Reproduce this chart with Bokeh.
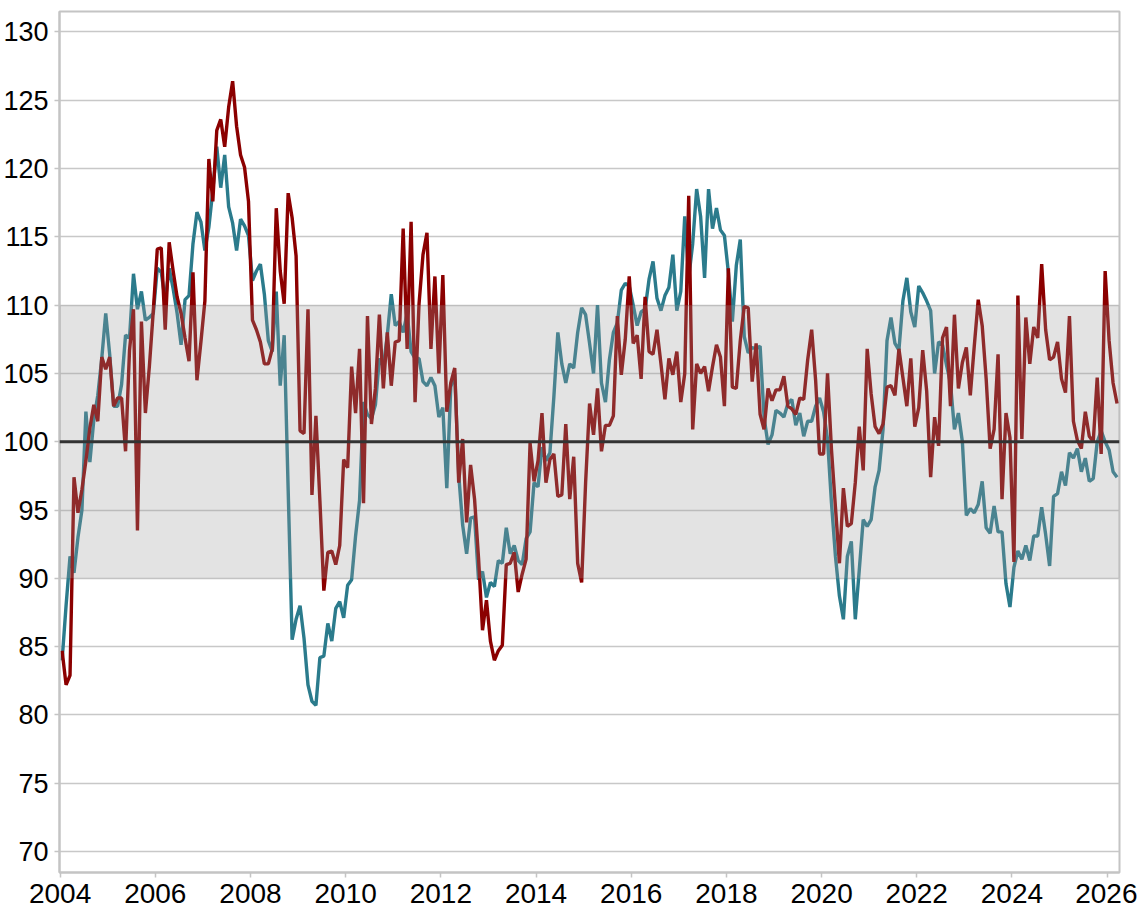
import pandas as pd
from bokeh.plotting import figure
from bokeh.models import Range1d, FixedTicker, BoxAnnotation, Span, ColumnDataSource
from bokeh.embed import file_html
from bokeh.resources import INLINE

# ---------------- data (monthly, Jan 2004 onwards) ----------------
start_month = "2004-01"

red = [
    84.7, 82.2, 82.9, 97.4, 94.8, 96.5, 98.6, 101.0, 102.7, 101.5, 106.2, 105.3,    # 2004
    106.2, 102.6, 103.2, 103.2, 99.3, 106.7, 109.7, 93.5, 108.8, 102.1, 105.5, 109.6,  # 2005
    114.1, 114.2, 108.2, 114.6, 112.5, 110.6, 109.4, 107.6, 105.9, 112.4, 104.5, 107.3,  # 2006
    110.3, 120.7, 117.6, 122.8, 123.6, 121.6, 124.5, 126.4, 123.1, 121.0, 120.1, 117.6,  # 2007
    108.9, 108.2, 107.3, 105.7, 105.7, 106.8, 117.1, 112.5, 110.1, 118.2, 116.4, 113.6,  # 2008
    100.8, 100.6, 109.7, 96.1, 101.9, 95.7, 89.1, 91.9, 92.0, 91.0, 92.4, 98.7,          # 2009
    98.1, 105.5, 102.1, 106.8, 95.5, 109.2, 101.3, 103.9, 109.3, 103.9, 108.0, 104.1,    # 2010
    107.3, 107.4, 115.6, 106.8, 116.1, 102.9, 110.1, 113.7, 115.3, 106.8, 112.1, 105.0,  # 2011
    112.2, 102.2, 104.3, 105.4, 97.0, 100.2, 94.1, 98.3, 95.8, 91.5, 86.2, 88.4,         # 2012
    85.4, 84.0, 84.7, 85.1, 91.0, 91.1, 91.9, 89.0, 90.3, 91.4, 99.9, 97.1,              # 2013
    98.6, 102.1, 97.0, 98.7, 99.1, 96.0, 96.1, 101.3, 95.8, 98.9, 91.1, 89.7,            # 2014
    97.0, 102.8, 100.5, 103.9, 99.3, 101.2, 101.2, 101.9, 109.2, 104.9, 107.5, 112.1,    # 2015
    107.2, 107.8, 104.6, 110.6, 106.6, 106.4, 108.2, 105.7, 103.1, 106.1, 104.9, 106.6,  # 2016
    102.9, 105.0, 118.0, 100.9, 105.7, 105.0, 105.5, 103.7, 105.5, 107.1, 106.2, 102.6,  # 2017
    112.7, 104.0, 103.9, 107.4, 109.9, 109.8, 104.4, 107.2, 102.0, 100.9, 103.9, 103.0,  # 2018
    103.8, 103.8, 104.8, 102.6, 102.4, 102.0, 103.2, 103.1, 106.0, 108.2, 104.5, 99.1,   # 2019
    99.1, 105.0, 99.4, 95.2, 91.1, 96.6, 93.8, 94.0, 97.0, 101.1, 97.9, 106.8,           # 2020
    103.5, 101.1, 100.6, 101.3, 104.0, 104.1, 103.4, 106.8, 104.7, 102.6, 106.1, 101.1,  # 2021
    102.5, 106.7, 103.7, 97.4, 101.8, 99.7, 107.6, 108.4, 102.6, 109.3, 103.9, 105.8,    # 2022
    106.9, 103.4, 107.0, 110.4, 108.5, 104.6, 99.5, 100.9, 106.4, 95.8, 102.1, 100.3,    # 2023
    91.2, 110.7, 100.2, 109.1, 105.7, 108.4, 107.6, 113.0, 108.2, 106.0, 106.2, 107.3,   # 2024
    104.6, 103.6, 109.2, 101.5, 100.1, 99.5, 102.2, 100.4, 100.0, 104.7, 99.1, 112.5,    # 2025
    107.4, 104.3, 102.8,                                                                 # 2026
]

teal = [
    84.0, 88.0, 91.6, 90.4, 93.0, 95.0, 102.2, 98.5, 101.6, 103.4, 106.1, 109.4,         # 2004
    106.4, 102.6, 102.6, 104.2, 107.8, 107.6, 112.3, 109.7, 111.0, 108.9, 109.1, 109.4,  # 2005
    112.7, 112.4, 110.3, 112.7, 111.2, 109.4, 107.1, 110.4, 110.7, 114.5, 116.8, 116.1,  # 2006
    114.0, 115.7, 118.4, 121.6, 118.6, 121.0, 117.2, 116.0, 114.0, 116.3, 115.8, 115.1,  # 2007
    111.8, 112.5, 113.0, 110.8, 107.4, 106.6, 111.0, 104.1, 107.8, 96.5, 85.5, 87.0,     # 2008
    88.0, 85.6, 82.2, 81.0, 80.7, 84.2, 84.3, 86.7, 85.4, 87.8, 88.3, 87.1,              # 2009
    89.5, 89.9, 93.1, 95.7, 102.9, 102.0, 101.7, 102.7, 106.1, 105.5, 107.8, 110.8,      # 2010
    108.5, 108.8, 108.0, 109.4, 106.6, 106.1, 106.1, 104.4, 104.1, 104.7, 104.1, 101.8,  # 2011
    102.5, 96.6, 104.0, 105.0, 97.6, 93.9, 91.8, 94.4, 94.5, 89.9, 90.5, 88.6,           # 2012
    89.7, 89.4, 91.3, 91.1, 93.7, 91.8, 92.4, 91.3, 91.0, 92.9, 93.4, 97.0,              # 2013
    96.7, 99.6, 98.6, 99.2, 103.3, 108.0, 105.7, 104.3, 105.7, 105.4, 108.0, 109.8,      # 2014
    109.3, 107.2, 105.0, 110.0, 104.3, 102.9, 106.0, 108.0, 108.7, 111.1, 111.6, 111.4,  # 2015
    110.0, 108.5, 109.5, 109.7, 111.9, 113.2, 110.5, 109.6, 110.7, 111.3, 113.7, 109.6,  # 2016
    111.0, 116.5, 112.0, 114.5, 118.5, 116.5, 112.0, 118.5, 115.6, 117.1, 115.5, 115.1,  # 2017
    112.4, 108.8, 112.9, 114.8, 107.7, 106.5, 106.9, 106.8, 107.0, 101.8, 99.8, 100.5,   # 2018
    102.3, 102.1, 101.8, 102.8, 103.1, 101.2, 102.1, 100.4, 101.5, 101.5, 102.6, 103.2,  # 2019
    102.2, 100.2, 95.5, 91.6, 88.7, 87.0, 91.6, 92.7, 87.0, 90.6, 94.3, 93.8,            # 2020
    94.3, 96.7, 97.9, 100.9, 107.4, 109.1, 107.2, 106.7, 110.3, 112.0, 109.5, 108.4,     # 2021
    111.4, 110.9, 110.3, 109.6, 105.0, 107.3, 107.1, 105.6, 104.3, 100.9, 102.1, 100.0,  # 2022
    94.6, 95.1, 94.8, 95.4, 97.1, 93.7, 93.3, 95.3, 93.4, 93.4, 89.6, 87.9,              # 2023
    90.8, 92.0, 91.4, 92.4, 91.3, 93.1, 93.1, 95.2, 93.2, 90.9, 96.0, 96.2,              # 2024
    97.8, 96.8, 99.2, 98.8, 99.5, 97.8, 98.8, 97.1, 97.3, 100.0, 100.8, 100.0,           # 2025
    99.4, 97.8, 97.4,                                                                    # 2026
]

x_tick_years = list(range(2004, 2027, 2))
y_tick_values = list(range(70, 131, 5))
band_low, band_high = 90, 110
reference_level = 100

# ---------------- styling ----------------
FONT = "Liberation Sans"
RED = "#8b0000"
TEAL = "#2b7b8c"
GRID = "#c8c8c8"
FRAME = "#c4c4c4"

months = pd.period_range(start_month, periods=len(red), freq="M")
xpos = months.year + (months.month - 0.5) / 12.0
src = ColumnDataSource(dict(x=list(xpos), red=red, teal=teal))

p = figure(
    width=1137, height=915,
    x_range=Range1d(2003.987, 2026.26),
    y_range=Range1d(68.46, 131.5),
    output_backend="svg", toolbar_location=None,
    min_border_left=58, min_border_right=18, min_border_top=11, min_border_bottom=43,
    background_fill_color="white", border_fill_color="white",
)
p.outline_line_color = FRAME
p.outline_line_width = 2

p.xgrid.grid_line_color = None
p.ygrid.grid_line_color = GRID
p.ygrid.grid_line_width = 1.5
p.ygrid.ticker = FixedTicker(ticks=y_tick_values)

p.xaxis.ticker = FixedTicker(ticks=x_tick_years)
p.yaxis.ticker = FixedTicker(ticks=y_tick_values)
for ax in (p.xaxis[0], p.yaxis[0]):
    ax.axis_line_color = FRAME
    ax.axis_line_width = 2
    ax.major_tick_line_color = FRAME
    ax.major_tick_line_width = 1.5
    ax.major_tick_out = 5
    ax.major_tick_in = 0
    ax.minor_tick_line_color = None
    ax.major_label_text_font = FONT
    ax.major_label_text_color = "black"
p.yaxis.major_label_text_font_size = "27px"
p.yaxis.major_label_standoff = 6
p.xaxis.major_label_text_font_size = "28px"
p.xaxis.major_label_standoff = 6

p.line("x", "teal", source=src, line_color=TEAL, line_width=3.4)
p.line("x", "red", source=src, line_color=RED, line_width=3.4)

p.add_layout(BoxAnnotation(bottom=band_low, top=band_high, fill_color="#9a9a9a",
                           fill_alpha=0.28, line_color=None))
p.add_layout(Span(location=reference_level, dimension="width",
                  line_color="#333333", line_width=3))

open("out.html", "w").write(file_html(p, INLINE))
